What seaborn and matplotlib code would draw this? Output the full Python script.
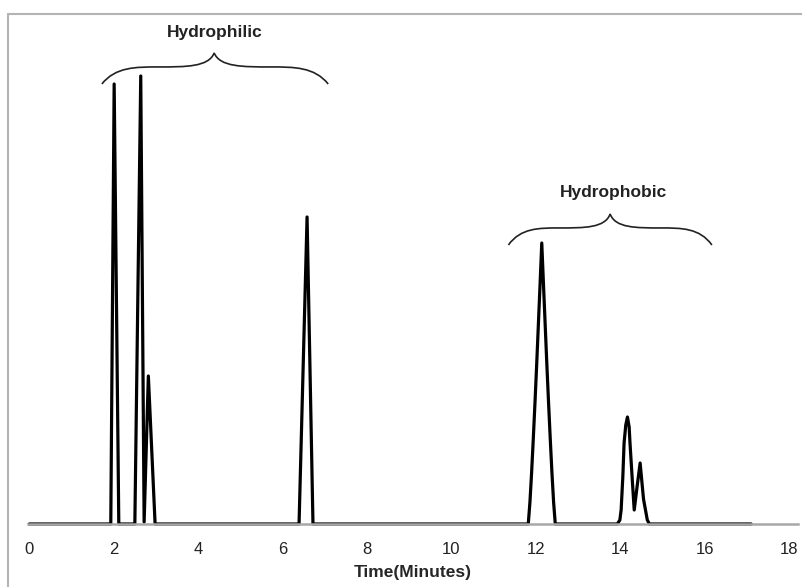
import numpy as np
import pandas as pd
import matplotlib
matplotlib.use("Agg")
import matplotlib.pyplot as plt
from matplotlib.path import Path
from matplotlib.patches import PathPatch
from matplotlib.lines import Line2D
import seaborn as sns

# chromatogram trace (time in minutes, detector signal in arbitrary units)
time = [0.00, 1.93, 2.01, 2.12, 2.50, 2.64, 2.72, 2.82, 2.98,
        6.39, 6.58, 6.72,
        11.82, 11.86, 11.90, 11.94, 11.98, 12.02, 12.06, 12.10, 12.14,
        12.18, 12.22, 12.26, 12.30, 12.34, 12.38, 12.42, 12.46,
        13.93, 13.99, 14.02, 14.06, 14.09, 14.13, 14.17, 14.21, 14.23, 14.28, 14.33,
        14.40, 14.47, 14.55, 14.64, 14.69,
        17.10]
signal = [0, 0, 440, 0, 0, 448, 2, 148, 0,
          0, 307, 0,
          0, 22, 52, 86, 122, 160, 200, 240, 281,
          240, 200, 160, 122, 86, 52, 22, 0,
          0, 4, 14, 47, 81, 99, 107, 97, 81, 47, 14,
          38, 61, 25, 4, 0,
          0]

xticks = [0, 2, 4, 6, 8, 10, 12, 14, 16, 18]

# group labels with their braces: (label, start, cusp, end, tip height, cusp height)
groups = [("Hydrophilic", 1.72, 4.38, 7.08, 440, 471),
          ("Hydrophobic", 11.35, 13.76, 16.17, 279, 310)]
label_pos = [(4.40, 492), (13.85, 331)]

df = pd.DataFrame({"time": time, "signal": signal})

sns.set_style("white")
plt.rcParams['font.family'] = ['Liberation Sans', 'DejaVu Sans']

fig = plt.figure(figsize=(8.03, 5.87), dpi=100)
ax = fig.add_axes([28 / 803, 63 / 587, 770 / 803, 510 / 587])

sns.lineplot(data=df, x="time", y="signal", color="black", linewidth=2.3,
             sort=False, estimator=None, ax=ax, clip_on=False)
ax.lines[-1].set_solid_joinstyle("round")

ax.set_xlim(-0.031, 18.21)
ax.set_ylim(0, 510)
ax.set_xticks(xticks)
ax.set_xticklabels([str(t) for t in xticks])
ax.set_yticks([])
ax.tick_params(axis="x", length=0, pad=13, labelsize=12, colors="#222222")
ax.set_xlabel("Time(Minutes)", fontsize=12.5, fontweight="bold", labelpad=6)
ax.set_ylabel("")
for side in ["left", "right", "top"]:
    ax.spines[side].set_visible(False)
ax.spines["bottom"].set_color("#a8a8a8")
ax.spines["bottom"].set_linewidth(1.8)
ax.patch.set_alpha(0)


def brace(ax, x0, xm, x1, y0, ym):
    yf = y0 + (ym - y0) * 0.55
    q0 = x0 + (xm - x0) * 0.5
    q1 = xm + (x1 - xm) * 0.5
    verts = [(x0, y0), (x0 + (xm - x0) * 0.12, yf), (q0 - (xm - x0) * 0.2, yf), (q0, yf),
             (xm - (xm - x0) * 0.25, yf), (xm - (xm - x0) * 0.05, yf), (xm, ym),
             (xm + (x1 - xm) * 0.05, yf), (xm + (x1 - xm) * 0.25, yf), (q1, yf),
             (q1 + (x1 - xm) * 0.2, yf), (x1 - (x1 - xm) * 0.12, yf), (x1, y0)]
    codes = [Path.MOVETO] + [Path.CURVE4] * 12
    ax.add_patch(PathPatch(Path(verts, codes), fill=False, lw=1.2, color="#222222", clip_on=False))


for (name, x0, xm, x1, y0, ym), (tx, ty) in zip(groups, label_pos):
    brace(ax, x0, xm, x1, y0, ym)
    ax.text(tx, ty, name, fontsize=12.5, fontweight="bold", ha="center", va="center", color="#222222")

# light frame around the picture
fig.add_artist(Line2D([8 / 803, 1], [1 - 14 / 587] * 2, transform=fig.transFigure, color="#b4b4b4", lw=1.5))
fig.add_artist(Line2D([8 / 803] * 2, [0, 1 - 14 / 587], transform=fig.transFigure, color="#b4b4b4", lw=1.5))

fig.savefig("out.png", dpi=100)
